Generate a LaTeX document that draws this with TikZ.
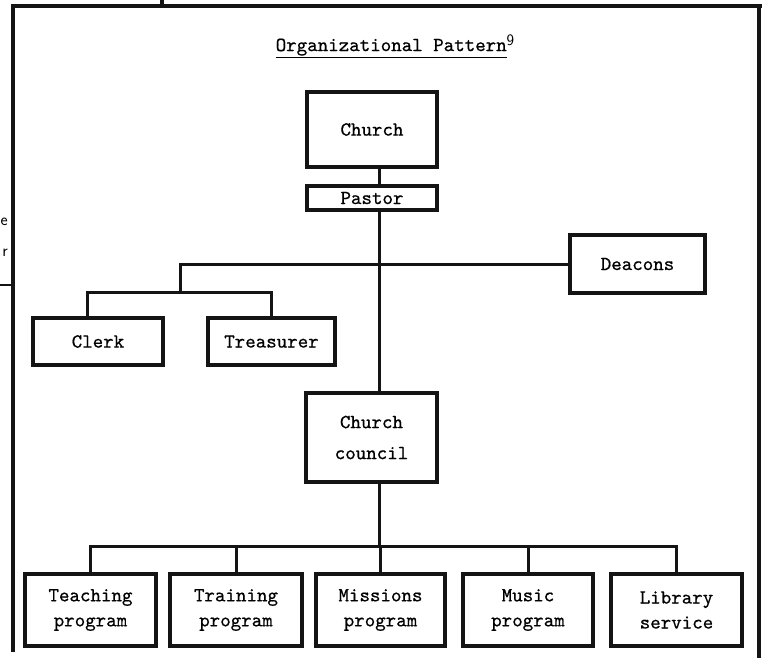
\documentclass[tikz,border=0pt]{standalone}
\usepackage{fontspec}
\usetikzlibrary{positioning,calc}
\newfontfamily\typewriter{lmmono10-regular.otf}[FakeBold=0.6]
\definecolor{ink}{HTML}{141414}
\tikzset{
  orgbox/.style={rectangle, draw=ink, line width=3.4pt, fill=white, align=center,
                 font=\typewriter\fontsize{20}{25}\selectfont, inner sep=0pt},
  link/.style={line width=3pt, draw=ink},
  frame/.style={line width=4.8pt, draw=ink},
}
\begin{document}
\begin{tikzpicture}[x=1pt,y=-1pt]
  \useasboundingbox (0,0) rectangle (762,658);
  % page frame and the cut edge of the next page
  \draw[frame] (13,652) -- (13,6) -- (762,6);
  \draw[frame] (162,0) -- (162,6);
  \draw[frame] (759,6) -- (759,658);
  \node[font=\sffamily\fontsize{17}{17}\selectfont, anchor=east, inner sep=0pt] (cute) at (8,222) {e};
  \node[font=\sffamily\fontsize{17}{17}\selectfont, anchor=east, inner sep=0pt] (cutr) at (8,253) {r};
  \coordinate (cutline) at (0,285);
  \draw[line width=1.6pt, draw=ink] (cutline) -- (cutline -| 13,0);

  \node[font=\typewriter\fontsize{20}{24}\selectfont] (title) at (395,46)
    {\underline{Organizational Pattern}\raisebox{6pt}{\sffamily\fontsize{16}{16}\selectfont 9}};

  \node[orgbox, minimum width=130pt, minimum height=75pt] (church) at (372,129.5) {Church};
  \node[orgbox, minimum width=130pt, minimum height=24pt] (pastor) at (372,198) {Pastor};
  \node[orgbox, minimum width=135pt, minimum height=58pt] (deacons) at (637.5,264) {Deacons};
  \node[orgbox, minimum width=130pt, minimum height=47pt] (clerk) at (98,341.5) {Clerk};
  \node[orgbox, minimum width=127pt, minimum height=47pt] (treasurer) at (271.5,341.5) {Treasurer};
  \node[orgbox, minimum width=131pt, minimum height=89pt] (council) at (371.5,437.5)
    {Church\\[6pt]council};

  \node[orgbox, minimum width=131pt, minimum height=72pt] (teaching) at (90.5,610) {Teaching\\program};
  \node[orgbox, minimum width=132pt, minimum height=72pt] (training) at (236,610) {Training\\program};
  \node[orgbox, minimum width=129pt, minimum height=72pt] (missions) at (380.5,610) {Missions\\program};
  \node[orgbox, minimum width=130pt, minimum height=72pt] (music) at (528,610) {Music\\program};
  \node[orgbox, minimum width=131pt, minimum height=72pt] (library) at (676.5,610) {Library\\service};

  % connectors
  \coordinate (spine) at (379,0);
  \coordinate (officers) at (180,292);
  \coordinate (progbar) at (379,546);
  \draw[link] (church.south -| spine) -- (pastor.north -| spine);
  \draw[link] (pastor.south -| spine) -- (council.north -| spine);
  \draw[link] (deacons.west) -| (officers);
  \draw[link] ([xshift=-11pt]clerk.north) |- (officers) -| (treasurer.north);
  \draw[link] (council.south -| spine) -- (progbar);
  \draw[link] (teaching.north) |- (progbar);
  \draw[link] (training.north) |- (progbar);
  \draw[link] (missions.north) |- (progbar);
  \draw[link] (music.north) |- (progbar);
  \draw[link] (library.north) |- (progbar);
\end{tikzpicture}
\end{document}
